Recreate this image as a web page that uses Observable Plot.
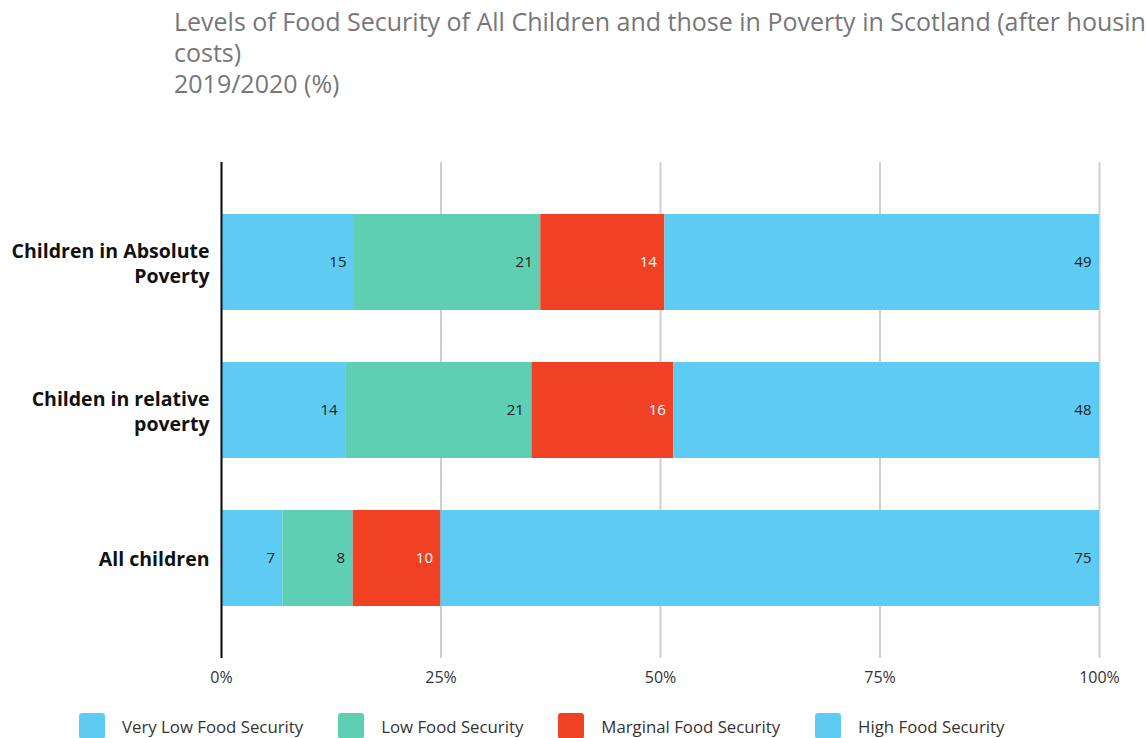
<!DOCTYPE html>
<html>
<head>
<meta charset="utf-8">
<script src="https://cdn.jsdelivr.net/npm/d3@7"></script>
<script src="https://cdn.jsdelivr.net/npm/@observablehq/plot@0.6"></script>
<style>
  html, body { margin: 0; padding: 0; background: #fff; width: 1146px; height: 738px; overflow: hidden; }
  #title { position: relative; height: 110px; box-sizing: border-box; padding: 6px 0 0 174px; font-family: "Open Sans", sans-serif; font-size: 25px; line-height: 31px; color: #777; white-space: nowrap; overflow: hidden; width: 1146px; }
  #chart svg { display: block; font-family: "Open Sans", sans-serif; }
  #legend { display: flex; align-items: center; gap: 35px; padding-left: 79px; margin-top: 13px; font-family: "Open Sans", sans-serif; font-size: 16.8px; color: #333; }
  .item { display: flex; align-items: center; gap: 17px; }
  .sw { width: 26px; height: 26px; border-radius: 3px; }
</style>
</head>
<body>
<div id="title"></div>
<div id="chart"></div>
<div id="legend"></div>
<script>
const titleLines = [
  "Levels of Food Security of All Children and those in Poverty in Scotland (after housing",
  "costs)",
  "2019/2020 (%)"
];
const groups = ["Children in Absolute Poverty", "Childen in relative poverty", "All children"];
const groupLabels = ["Children in Absolute\nPoverty", "Childen in relative\npoverty", "All children"];
const levels = ["Very Low Food Security", "Low Food Security", "Marginal Food Security", "High Food Security"];
const colors = ["#5ECBF3", "#5ECFB2", "#F04124", "#5ECBF3"];
const veryLow = [15, 14, 7];
const low = [21, 21, 8];
const marginal = [14, 16, 10];
const high = [49, 48, 75];
const xTicks = [0, 0.25, 0.5, 0.75, 1];

document.getElementById("title").innerHTML = titleLines.map(t => `<div>${t}</div>`).join("");

const series = [veryLow, low, marginal, high];
const data = [];
groups.forEach((g, i) => {
  levels.forEach((l, j) => data.push({group: g, level: l, value: series[j][i]}));
});

const labelOf = new Map(groups.map((g, i) => [g, groupLabels[i]]));

const chart = Plot.plot({
  width: 1146,
  height: 590,
  marginTop: 52,
  marginBottom: 42,
  marginLeft: 221,
  marginRight: 47,
  x: {domain: [0, 1], ticks: xTicks, tickFormat: d3.format(".0%"), label: null},
  y: {domain: groups, padding: 0.35, label: null},
  color: {domain: levels, range: colors},
  marks: [
    Plot.gridX(xTicks, {stroke: "#cfcfcf", strokeWidth: 2, strokeOpacity: 1}),
    Plot.barX(data, Plot.stackX({x: "value", y: "group", fill: "level", offset: "normalize", order: null})),
    Plot.text(data, Plot.stackX2({x: "value", y: "group", z: "level", offset: "normalize", order: null,
      text: d => String(d.value), textAnchor: "end", dx: -8, fontSize: 15,
      fill: d => d.level === "Marginal Food Security" ? "#ffffff" : "#222222"})),
    Plot.ruleX([0], {stroke: "#111", strokeWidth: 2}),
    Plot.axisX({ticks: xTicks, tickFormat: d3.format(".0%"), tickSize: 0, tickPadding: 13, fontSize: 16, color: "#333", label: null}),
    Plot.axisY({tickSize: 0, tickPadding: 12, tickFormat: g => labelOf.get(g), fontSize: 19.5, fontWeight: "bold", lineHeight: 1.25, color: "#111", label: null})
  ]
});
document.getElementById("chart").appendChild(chart);

const legend = document.getElementById("legend");
levels.forEach((l, i) => {
  const it = document.createElement("div");
  it.className = "item";
  it.innerHTML = `<div class="sw" style="background:${colors[i]}"></div><span>${l}</span>`;
  legend.appendChild(it);
});
</script>
</body>
</html>
